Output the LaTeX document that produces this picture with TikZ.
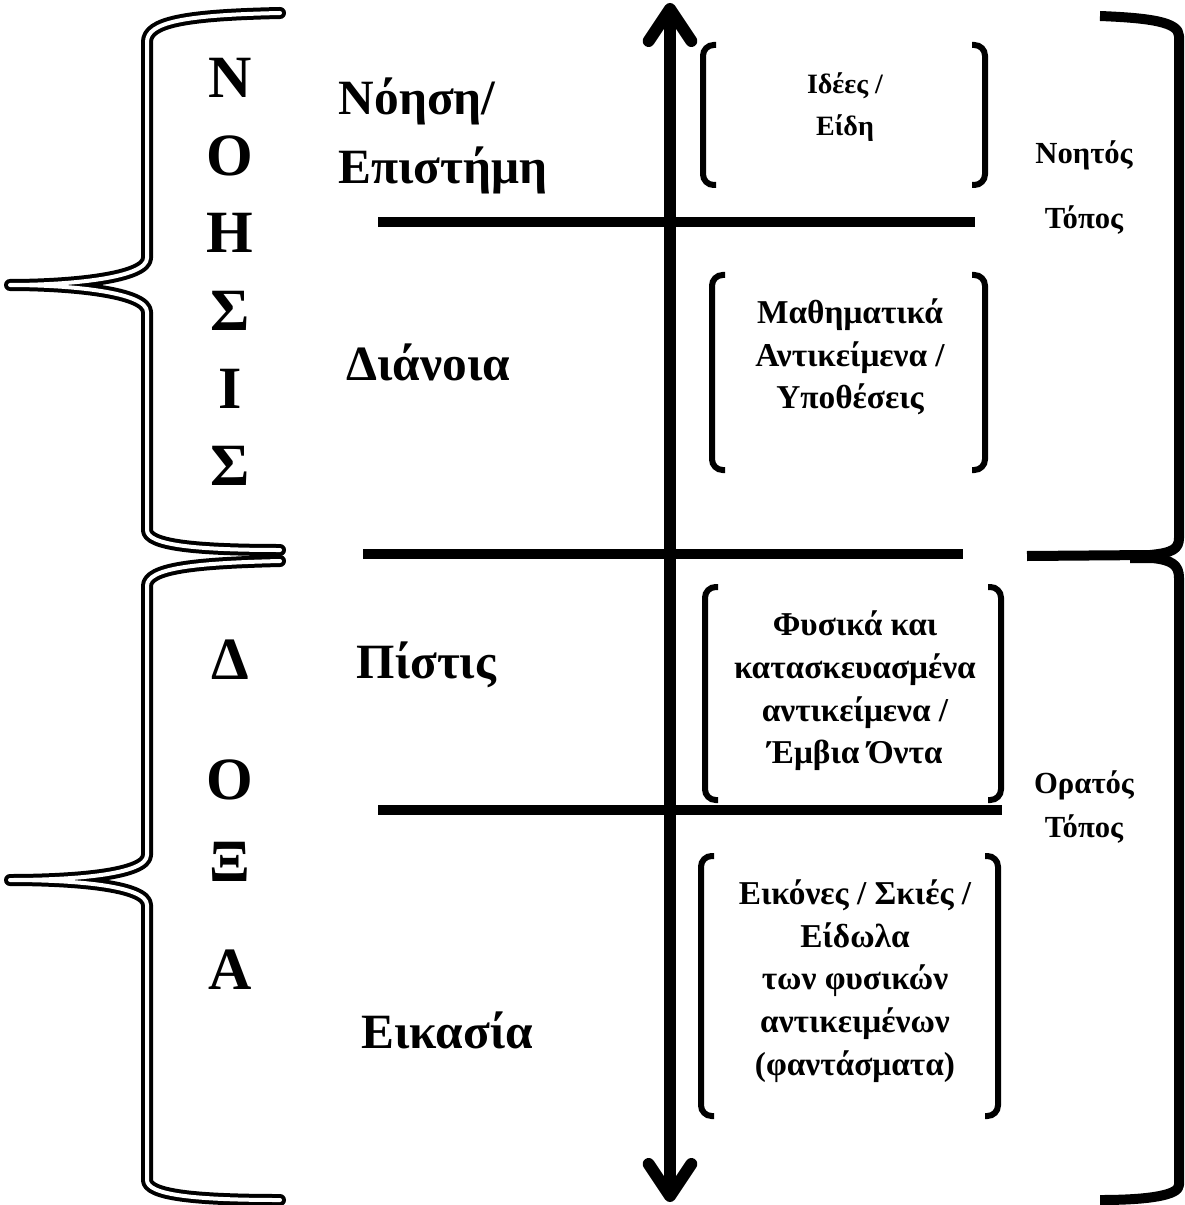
\documentclass[tikz,border=0pt]{standalone}
\usepackage{fontspec}
\setmainfont{Liberation Serif}
\usepackage{tikz}
\usetikzlibrary{arrows.meta,positioning,calc}

\begin{document}
\begin{tikzpicture}[
    x=0.75pt, y=-0.75pt,
    bigletter/.style={font=\fontsize{45}{50}\selectfont\bfseries},
    level/.style={font=\fontsize{37}{52}\selectfont\bfseries, align=left, anchor=west},
    itemtext/.style={font=\fontsize{25}{32}\selectfont\bfseries, align=center},
    smalltext/.style={font=\fontsize{21}{32}\selectfont\bfseries, align=center},
    placetext/.style={font=\fontsize{23}{30}\selectfont\bfseries},
    divider/.style={line width=7.5pt},
    axis/.style={line width=9pt, {Straight Barb[round,length=24pt,width=32pt]}-{Straight Barb[round,length=24pt,width=32pt]}},
    dbrace/.style={double, line width=3pt, double distance=3pt, line join=round, line cap=round},
    rbrace/.style={line width=7.5pt, line join=round},
    bracket/.style={line width=4.5pt, rounded corners=8pt}
]
    \useasboundingbox (0,0) rectangle (1184,1205);

    % left braces
    \draw[dbrace] (280,13) .. controls (185,15) and (147,22) .. (147,42) -- (147,258)
        .. controls (147,278) and (70,285) .. (10,285)
        .. controls (70,285) and (147,292) .. (147,312) -- (147,530)
        .. controls (147,545) and (195,550) .. (280,550);
    \draw[dbrace] (280,561) .. controls (195,563) and (147,568) .. (147,586) -- (147,855)
        .. controls (147,875) and (70,880) .. (10,880)
        .. controls (70,880) and (147,885) .. (147,905) -- (147,1180)
        .. controls (147,1195) and (195,1200) .. (280,1200);

    % right brackets
    \draw[rbrace] (1100,16) .. controls (1150,18) and (1179,22) .. (1179,36) -- (1179,538)
        .. controls (1179,549) and (1172,553) .. (1150,555) -- (1027,556);
    \draw[rbrace] (1130,558) -- (1152,558) .. controls (1172,560) and (1179,565) .. (1179,578)
        -- (1179,1185) .. controls (1179,1195) and (1150,1200) .. (1100,1200);

    \foreach \l [count=\i] in {Ν,Ο,Η,Σ,Ι,Σ}
        \node[bigletter] (noesis\i) at (230,{78+77.6*(\i-1)}) {\l};
    \node[bigletter] (doxa1) at (230,660) {Δ};
    \node[bigletter] (doxa2) at (230,780) {Ο};
    \node[bigletter] (doxa3) at (230,862) {Ξ};
    \node[bigletter] (doxa4) at (230,970) {Α};

    \node[level] (episteme) at (334,136) {Νόηση/\\Επιστήμη};
    \node[level] (dianoia)  at (342,362) {Διάνοια};
    \node[level] (pistis)   at (352,665) {Πίστις};
    \node[level] (eikasia)  at (357,1030) {Εικασία};

    \draw[divider] (378,222) -- (975,222);
    \draw[divider] (363,554) -- (963,554);
    \draw[divider] (378,810) -- (1002,810);

    \coordinate (top) at (670,3);
    \coordinate (bottom) at (670,1202);
    \draw[axis] (top) -- (bottom);

    % item brackets
    \draw[bracket] (716,45) -- (703,45) -- (703,185) -- (716,185);
    \draw[bracket] (972,45) -- (985,45) -- (985,185) -- (972,185);
    \draw[bracket] (725,275) -- (712,275) -- (712,470) -- (725,470);
    \draw[bracket] (972,275) -- (985,275) -- (985,470) -- (972,470);
    \draw[bracket] (718,587) -- (705,587) -- (705,800) -- (718,800);
    \draw[bracket] (988,587) -- (1001,587) -- (1001,800) -- (988,800);
    \draw[bracket] (714,856) -- (701,856) -- (701,1116) -- (714,1116);
    \draw[bracket] (985,856) -- (998,856) -- (998,1116) -- (985,1116);

    \node[smalltext] (ideas) at (845,107) {Ιδέες /\\Είδη};
    \node[itemtext] (maths) at (850,357) {Μαθηματικά\\Αντικείμενα /\\Υποθέσεις};
    \node[itemtext] (things) at (855,691) {Φυσικά και\\κατασκευασμένα\\αντικείμενα /\\Έμβια Όντα};
    \node[itemtext] (images) at (855,981) {Εικόνες / Σκιές /\\Είδωλα\\των φυσικών\\αντικειμένων\\(φαντάσματα)};

    \node[placetext] (noetos) at (1084,155) {Νοητός};
    \node[placetext] (topos1) at (1084,220) {Τόπος};
    \node[placetext] (oratos) at (1084,785) {Ορατός};
    \node[placetext] (topos2) at (1084,829) {Τόπος};
\end{tikzpicture}
\end{document}
